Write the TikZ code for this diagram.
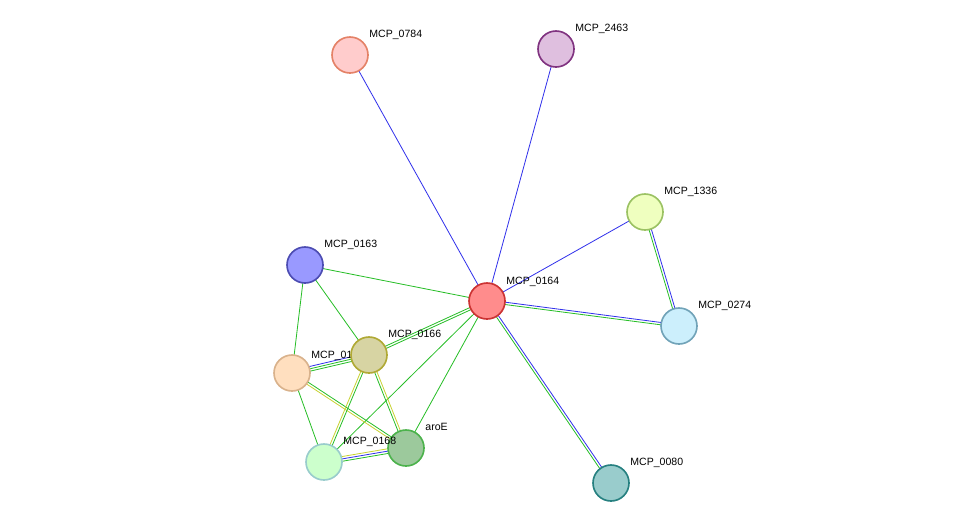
\documentclass[tikz,border=0pt]{standalone}
\usepackage{fontspec}
\setmainfont{Liberation Sans}
\usetikzlibrary{calc,backgrounds}

\definecolor{eg}{RGB}{40,190,40}
\definecolor{eb}{RGB}{50,50,235}
\definecolor{ey}{RGB}{200,210,50}

\tikzset{
  prot/.style 2 args={circle, draw=#2, fill=#1, line width=1.4pt, minimum size=1.08cm, inner sep=0pt},
  lbl/.style={anchor=base west, font=\small, inner sep=1pt},
}

% one parallel strand per colour, offsets in pt
\newcommand{\link}[3]{%
  \foreach \col/\off in {#3}{%
    \draw[\col, line width=0.7pt] ($(#1.center)!\off pt!90:(#2.center)$) -- ($(#2.center)!\off pt!-90:(#1.center)$);
  }%
}

\begin{document}
\begin{tikzpicture}[x=0.03cm, y=-0.03cm]
\useasboundingbox (0,0) rectangle (975,529);

% labels of crowded node first, so node 0166 covers it
\node[lbl] (l0165) at (310,358) {MCP\_0165};

\node[prot={pink!80!white}{brown!60!red!70!white}] (n0784) at (350,55) {};
\node[prot={violet!25!white}{violet!60!gray}] (n2463) at (556,49) {};
\node[prot={lime!25!white}{olive!50!green!60!white}] (n1336) at (645,212) {};
\node[prot={blue!40!white}{blue!40!gray}] (n0163) at (305,265) {};
\node[prot={red!45!white}{red!60!gray}] (n0164) at (487,301) {};
\node[prot={cyan!20!white}{cyan!40!gray}] (n0274) at (679,326) {};
\node[prot={yellow!40!gray!60!white}{olive!70!white}] (n0166) at (369,355) {};
\node[prot={orange!25!white}{brown!60!white}] (n0165) at (292,373) {};
\node[prot={green!30!gray!60!white}{green!40!gray}] (naroE) at (406,448) {};
\node[prot={green!20!white}{teal!40!white}] (n0168) at (324,462) {};
\node[prot={teal!40!white}{teal!70!gray}] (n0080) at (611,483) {};

\node[lbl] at (368,37) {MCP\_0784};
\node[lbl] at (574,31) {MCP\_2463};
\node[lbl] at (663,194) {MCP\_1336};
\node[lbl] at (323,247) {MCP\_0163};
\node[lbl] at (505,284) {MCP\_0164};
\node[lbl] at (697,308) {MCP\_0274};
\node[lbl] at (387,337) {MCP\_0166};
\node[lbl] at (424,430) {aroE};
\node[lbl] at (342,444) {MCP\_0168};
\node[lbl] at (629,465) {MCP\_0080};

\begin{scope}[on background layer]
\link{n0784}{n0164}{eb/0}
\link{n2463}{n0164}{eb/0}
\link{n1336}{n0164}{eb/0}
\link{n1336}{n0274}{eg/-1,eb/1}
\link{n0164}{n0274}{eg/-1,eb/1}
\link{n0164}{n0080}{eg/-1,eb/1}
\link{n0163}{n0164}{eg/0}
\link{n0163}{n0166}{eg/0}
\link{n0163}{n0165}{eg/0}
\link{n0164}{n0166}{eg/-1,eg/1}
\link{n0164}{naroE}{eg/0}
\link{n0164}{n0168}{eg/0}
\link{n0165}{n0166}{eg/-2,eg/0,eb/2}
\link{n0165}{naroE}{ey/-1,eg/1}
\link{n0165}{n0168}{eg/0}
\link{n0166}{n0168}{ey/-1,eg/1}
\link{n0166}{naroE}{ey/1,eg/-1}
\link{n0168}{naroE}{ey/2,eb/0,eg/-2}
\end{scope}
\end{tikzpicture}
\end{document}
